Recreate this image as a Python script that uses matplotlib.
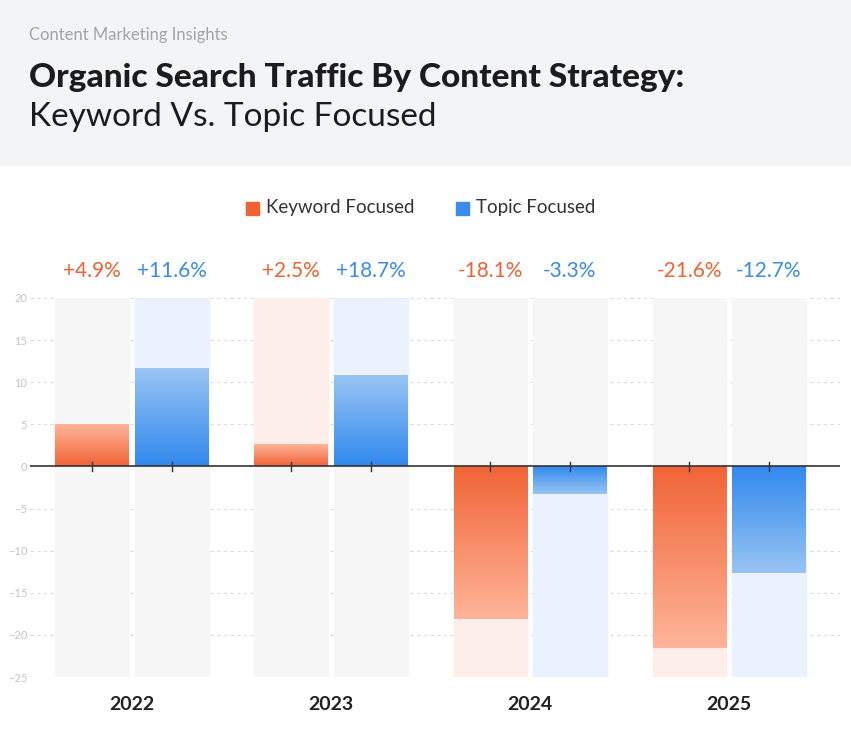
import matplotlib.pyplot as plt
import numpy as np
from matplotlib.colors import LinearSegmentedColormap
from matplotlib.patches import Rectangle

years = ['2022', '2023', '2024', '2025']
keyword = [4.9, 2.5, -18.1, -21.6]
topic = [11.6, 10.8, -3.3, -12.7]
keyword_labels = ['+4.9%', '+2.5%', '-18.1%', '-21.6%']
topic_labels = ['+11.6%', '+18.7%', '-3.3%', '-12.7%']
keyword_tint = [False, True, True, True]
topic_tint = [True, True, True, True]

plt.rcParams['font.family'] = ['Lato', 'DejaVu Sans']
ORANGE = '#ee6233'
BLUE = '#3a8bea'

fig = plt.figure(figsize=(8.51, 7.37), dpi=100)
fig.patches.append(Rectangle((0, 1 - 165 / 737), 1, 165 / 737, transform=fig.transFigure,
                             color='#f3f4f6', zorder=0))
fig.text(0.034, 1 - 35 / 737, 'Content Marketing Insights', fontsize=12, color='#a0a4aa', va='center')
fig.text(0.034, 1 - 77 / 737, 'Organic Search Traffic By Content Strategy:', fontsize=24,
         fontweight='black', color='#1c1c1c', va='center')
fig.text(0.034, 1 - 117 / 737, 'Keyword Vs. Topic Focused', fontsize=24, fontweight='normal',
         color='#1c1c1c', va='center')

ax = fig.add_axes([30 / 851, 1 - 677 / 737, 810 / 851, (677 - 298) / 737])
ax.set_xlim(-0.513, 3.557)
ax.set_ylim(-25, 20)
for s in ax.spines.values():
    s.set_visible(False)
ax.set_yticks([-25, -20, -15, -10, -5, 0, 5, 10, 15, 20])
ax.tick_params(axis='y', length=0, labelsize=8, labelcolor='#c4c4c4', pad=2)
ax.set_xticks(range(4))
ax.set_xticklabels(years, fontsize=14, fontweight='bold', color='#222222')
ax.tick_params(axis='x', length=0, pad=14)
for v in [-25, -20, -15, -10, -5, 5, 10, 15, 20]:
    ax.axhline(v, color='#dddddd', ls=(0, (3, 3)), lw=0.8, zorder=0)

cm_o = LinearSegmentedColormap.from_list('o', ['#f06436', '#ffb49a'])
cm_b = LinearSegmentedColormap.from_list('b', ['#3289ee', '#98c4f3'])
w = 0.37
off = 0.2


def draw(x, v, cmap, tint, tintcol):
    ax.add_patch(Rectangle((x - w / 2, -25), w, 45, color='#f6f6f6', zorder=1))
    if tint:
        if v >= 0:
            ax.add_patch(Rectangle((x - w / 2, v), w, 20 - v, color=tintcol, zorder=1))
        else:
            ax.add_patch(Rectangle((x - w / 2, -25), w, 25 + v, color=tintcol, zorder=1))
    grad = np.linspace(0, 1, 256).reshape(-1, 1)
    ax.imshow(grad, cmap=cmap, extent=(x - w / 2, x + w / 2, 0, v), origin='lower',
              aspect='auto', zorder=2)


for i in range(4):
    draw(i - off, keyword[i], cm_o, keyword_tint[i], '#fdeee9')
    draw(i + off, topic[i], cm_b, topic_tint[i], '#e9f2fd')
    ax.text(i - off, 23.2, keyword_labels[i], ha='center', va='center', fontsize=15, color=ORANGE)
    ax.text(i + off, 23.2, topic_labels[i], ha='center', va='center', fontsize=15, color=BLUE)
    ax.plot([i - off, i - off], [-0.5, 0.5], color='#333333', lw=1, zorder=4)
    ax.plot([i + off, i + off], [-0.5, 0.5], color='#333333', lw=1, zorder=4)
ax.axhline(0, color='#333333', lw=1.2, zorder=3)
ax.set_xlim(-0.513, 3.557)

fig.patches.append(Rectangle((246 / 851, 1 - 215 / 737), 13 / 851, 13 / 737, transform=fig.transFigure, color=ORANGE))
fig.text(266 / 851, 1 - 208 / 737, 'Keyword Focused', fontsize=13.5, color='#333333', va='center')
fig.patches.append(Rectangle((456 / 851, 1 - 215 / 737), 13 / 851, 13 / 737, transform=fig.transFigure, color=BLUE))
fig.text(476 / 851, 1 - 208 / 737, 'Topic Focused', fontsize=13.5, color='#333333', va='center')

fig.savefig('out.png', dpi=100)
